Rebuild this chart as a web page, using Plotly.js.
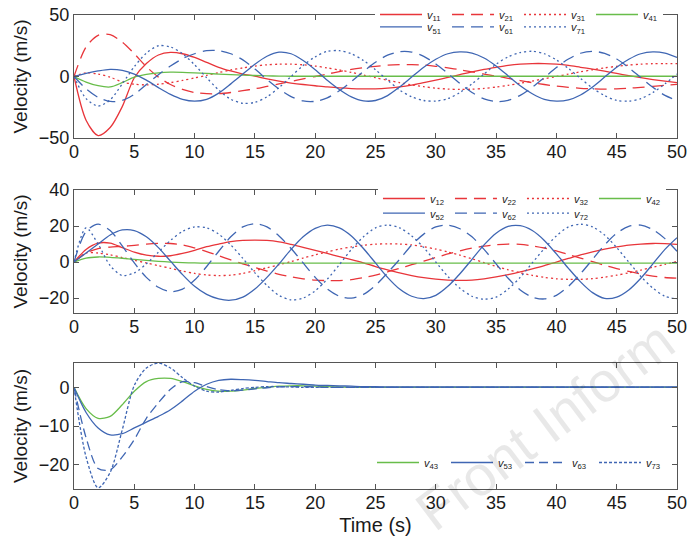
<!DOCTYPE html>
<html><head><meta charset="utf-8">
<script src="https://cdn.plot.ly/plotly-3.0.1.min.js"></script>
<style>html,body{margin:0;padding:0;background:#fff}</style>
</head><body><div id="chart" style="width:689px;height:545px"></div>
<script>
const time = [0,1,2,3,4,5,6,7,8,9,10,11,12,13,14,15,16,17,18,19,20,21,22,23,24,25,26,27,28,29,30,31,32,33,34,35,36,37,38,39,40,41,42,43,44,45,46,47,48,49,50];

// Panel 1
const v11 = [0,-35.5,-48,-41.5,-24.5,-1, 10.5,17.5,19.6,18.5,15.5, 11.5,7.5,4.5,2,0.3, -2,-3.8,-5.3,-6.5,-7.5, -8.5,-9.3,-9.8,-10,-10, -9.5,-8.5,-7,-5,-3, -0.8,1.5,3.8,5.8,7.5, 9,10,10.5,10.5,10, 9,7.5,6,4.3,2.5, 0.7,-1,-2.5,-3.8,-5];
const v21 = [0,24,33.5,34,28,18.5, 8,-0.5,-6.5,-10.5,-13, -14,-14,-13,-11.5,-10, -8,-6,-4,-2,0, 2,4,5.8,7.2,8.3, 9.2,9.6,9.7,9.3,8.3, 7,5.5,3.8,2,0.3, -1.5,-3.3,-5,-6.5,-7.8, -8.8,-9.6,-10,-10.2,-10, -9.5,-8.8,-8,-7.2,-6.4];
const v31 = [0,3,2,-0.5,-4.5,-6.3, -6.8,-6.3,-5,-3.2,-1.2, 1,3.2,5.3,7,8.5, 9.5,10,10,9.5,8.5, 7,5.3,3.3,1.2,-1, -3,-5,-6.8,-8.3,-9.5, -10.2,-10.5,-10.3,-9.7,-8.6, -7.2,-5.5,-3.7,-1.8,0, 2,3.8,5.5,7,8.3, 9.3,10,10.4,10.5,10.4];
const v41 = [0,-4.5,-7.5,-8.5,-5,-0.5, 1.8,3,3.5,3.4,3, 2.5,2,1.5,1.1,0.8, 0.5,0.3,0.2,0.2,0.2, 0.2,0.2,0.2,0.2,0.2, 0.2,0.2,0.2,0.2,0.2, 0.2,0.2,0.2,0.2,0.2, 0.2,0.2,0.2,0.2,0.2, 0.2,0.2,0.2,0.2,0.2, 0.2,0.2,0.2,0.2,0.2];
const v51 = [0,2.5,4.5,5.8,5,2, -3,-9,-14.5,-18.5,-20, -18.5,-13.5,-6,2,10, 16.5,19.8,18.5,13,5.5, -3,-10.5,-16.5,-19.8,-19.5, -15.5,-8.5,-0.5,7.5,14, 18.5,20,19,15,8.5, 0.5,-7.5,-14,-18.5,-20, -19,-15,-8.5,-0.5,7.5, 14,18.5,20,19,15.5];
const v61 = [0,-10,-17,-20.3,-19.5,-14.5, -6.5,1.5,8.5,14.5,18.5, 21,21,18.5,13.5,6, -2.5,-10.2,-16.4,-19.9,-20.2, -17.3,-11.6,-4.1,4.1,11.6, 17.3,20.2,19.9,16.4,10.2, 2.5,-5.7,-13,-18.2,-20.4, -19.4,-15.3,-8.8,-0.8,7.3, 14.2,18.9,20.5,18.8,14.2, 7.2,-0.9,-8.8,-15.4,-19.5];
const v71 = [0,-18,-24,-19,-6,8, 19,25,24,18.5,9.5, -1,-11,-18.5,-21.8,-21, -16.5,-9,0,9,16, 20.5,21,18.5,13,5.5, -3,-11,-16.5,-19.5,-20, -18,-13,-6,2,10, 16,19.5,20.5,18.5,13.5, 6.5,-1.5,-9.5,-15.5,-19.5, -20,-18,-13,-6,2];

// Panel 2
const v12 = [0,7,10.5,10.5,8,5.5, 3.8,3.2,3.5,4.8,6.5, 8.5,10,11.3,12,12.2, 12,11.2,9.8,8.2,6.5, 4.8,3,1.3,-0.5,-2.5, -4.3,-6,-7.5,-8.7,-9.5, -10,-10.2,-10,-9.3,-8.3, -7,-5.5,-3.8,-2,0, 2,4,5.7,7.2,8.4, 9.4,10,10.3,10.2,9.8];
const v22 = [0,5,7.5,8.3,8.7,9.3, 10,10.4,10.3,9.5,7.8, 5.8,3.5,1.2,-1,-3, -5,-6.8,-8.2,-9.3,-10, -10.3,-10.3,-9.8,-8.7,-7.3, -5.5,-3.5,-1.5,0.5,2.5, 4.5,6.2,7.7,8.8,9.6, 10,9.8,9,7.8,6.2, 4.2,2.2,0.2,-1.8,-3.6, -5.2,-6.6,-7.8,-8.6,-9];
const v32 = [0,5,5,4,2.5,1, -0.5,-2,-3.5,-5,-6.3, -7.2,-7.5,-7.3,-6.3,-4.8, -3.2,-1.5,0.3,2.2,4, 5.7,7.2,8.4,9.3,9.9, 10.1,10,9.5,8.5,7.2, 5.6,3.8,1.8,-0.3,-2.4, -4.3,-6,-7.4,-8.5,-9.3, -9.6,-9.6,-9.2,-8.4,-7.3, -6,-4.5,-2.9,-1.3,0.3];
const v42 = [0,2.2,2.8,2.6,2.1,1.5, 0.9,0.4,0,-0.3,-0.5, -0.6,-0.6,-0.6,-0.6,-0.6, -0.6,-0.6,-0.6,-0.6,-0.6, -0.6,-0.6,-0.6,-0.6,-0.6, -0.6,-0.6,-0.6,-0.6,-0.6, -0.6,-0.6,-0.6,-0.6,-0.6, -0.6,-0.6,-0.6,-0.6,-0.6, -0.6,-0.6,-0.6,-0.6,-0.6, -0.6,-0.6,-0.6,-0.6,-0.6];
const v52 = [0,5,10,15,17.8,17.5, 14,8,0.5,-7,-13.5, -18,-20.5,-21.2,-19.5,-15, -8.5,-1,7,14,18.7, 20.5,19,14.5,7.5,-0.5, -8.5,-15,-19,-20.3,-18.5, -13.5,-6.5,1.5,9.5,16, 19.8,20.2,17.5,12,4.5, -3.5,-11,-17,-20.2,-19.5, -15.5,-9,-1,7,13.5];
const v62 = [0,17,21,17.5,9,-0.5, -8.5,-14,-16.5,-15,-10, -2.5,6,14,19.5,21.3, 19.5,14.5,7.5,-0.5,-8.5, -15,-19,-20,-18,-13, -6,1.5,9.5,15.5,19.5, 20.5,18.5,14,7,-1, -9,-15.5,-19.5,-20.5,-18.5, -13.5,-6.5,1.5,9.5,16, 19.8,20.5,18,13,6];
const v72 = [0,19,10,-2,-7.5,-6, -1,5.5,12,17,19.5, 19,15.5,9.5,2,-6, -13,-18.5,-21,-20,-16, -9.5,-1.5,7,14,19, 20.5,19,14.5,8,0, -8,-14.5,-19,-20.6,-19.5, -15,-8.5,-0.5,7.5,14.5, 19.5,21,19.5,15,8, 0,-8,-14.5,-19,-20.5];

// Panel 3
const v43 = [0,-5.5,-8,-7.5,-4.5,-1, 1.5,2.3,2.3,1.5,0.4, -0.5,-1,-1,-0.7,-0.3, 0,0.3,0.4,0.4,0.3, 0.2,0.1,0,0,0, 0,0,0,0,0, 0,0,0,0,0, 0,0,0,0,0, 0,0,0,0,0, 0,0,0,0,0];
const v53 = [0,-6.5,-10.5,-12.3,-12,-10.5, -9,-7.5,-5.8,-3.5,-1, 0.8,1.8,2.1,2,1.8, 1.5,1.2,1,0.8,0.6, 0.5,0.4,0.3,0.2,0.2, 0.1,0.1,0.1,0.1,0.1, 0.1,0.1,0.1,0.1,0.1, 0.1,0.1,0.1,0.1,0.1, 0.1,0.1,0.1,0.1,0.1, 0.1,0.1,0.1,0.1,0.1];
const v63 = [0,-13,-21,-21.3,-18,-13.5, -8,-4,-0.5,1.5,1.2, 0.2,-0.6,-0.9,-0.7,-0.4, -0.1,0.1,0.2,0.2,0.1, 0,0,0,0,0, 0,0,0,0,0, 0,0,0,0,0, 0,0,0,0,0, 0,0,0,0,0, 0,0,0,0,0];
const v73 = [0,-18,-26,-22,-11,0.5, 5,6.3,5,2.5,0.3, -1,-1.2,-0.8,-0.3,0, 0.2,0.2,0.1,0,0, 0,0,0,0,0, 0,0,0,0,0, 0,0,0,0,0, 0,0,0,0,0, 0,0,0,0,0, 0,0,0,0,0];

const xTicks = [0,5,10,15,20,25,30,35,40,45,50];

const RED = '#e8353a', BLUE = '#3f66b3', GREEN = '#68bd4a';
const DASH = '12px,7px', DOT = '2px,3px';
const FONT = 'Liberation Sans, Arial, sans-serif';

function tr(y, name, color, dash, xa, ya, leg) {
  return {x: time, y: y, name: name, type: 'scatter', mode: 'lines',
    line: {color: color, width: 1.3, dash: dash, shape: 'spline', smoothing: 0.8},
    xaxis: xa, yaxis: ya, legend: leg, hoverinfo: 'skip'};
}
const lab = s => '<i>v</i><sub>' + s + '</sub>';

const data = [
  tr(v11, lab('11'), RED, 'solid', 'x', 'y', 'legend'),
  tr(v21, lab('21'), RED, DASH, 'x', 'y', 'legend'),
  tr(v31, lab('31'), RED, DOT, 'x', 'y', 'legend'),
  tr(v41, lab('41'), GREEN, 'solid', 'x', 'y', 'legend'),
  tr(v51, lab('51'), BLUE, 'solid', 'x', 'y', 'legend2'),
  tr(v61, lab('61'), BLUE, DASH, 'x', 'y', 'legend2'),
  tr(v71, lab('71'), BLUE, DOT, 'x', 'y', 'legend2'),
  tr(v12, lab('12'), RED, 'solid', 'x2', 'y2', 'legend3'),
  tr(v22, lab('22'), RED, DASH, 'x2', 'y2', 'legend3'),
  tr(v32, lab('32'), RED, DOT, 'x2', 'y2', 'legend3'),
  tr(v42, lab('42'), GREEN, 'solid', 'x2', 'y2', 'legend3'),
  tr(v52, lab('52'), BLUE, 'solid', 'x2', 'y2', 'legend4'),
  tr(v62, lab('62'), BLUE, DASH, 'x2', 'y2', 'legend4'),
  tr(v72, lab('72'), BLUE, DOT, 'x2', 'y2', 'legend4'),
  tr(v43, lab('43'), GREEN, 'solid', 'x3', 'y3', 'legend5'),
  tr(v53, lab('53'), BLUE, 'solid', 'x3', 'y3', 'legend5'),
  tr(v63, lab('63'), BLUE, '9px,5px', 'x3', 'y3', 'legend5'),
  tr(v73, lab('73'), BLUE, '3px,2px', 'x3', 'y3', 'legend5')
];

const axCommon = {
  showline: true, linecolor: '#555', linewidth: 1, mirror: 'ticks',
  ticks: 'inside', ticklen: 5, tickcolor: '#555', tickwidth: 1,
  showgrid: false, zeroline: false,
  tickfont: {family: FONT, size: 18, color: '#1a1a1a'}
};
function xa(anchor, title) {
  const a = Object.assign({}, axCommon, {anchor: anchor, domain: [0, 1], range: [0, 50],
    tickmode: 'array', tickvals: xTicks, ticktext: xTicks.map(String), ticklabelstandoff: -3});
  if (title) a.title = {text: title, font: {family: FONT, size: 20, color: '#1a1a1a'}, standoff: 6};
  return a;
}
function ya(anchor, domain, range, ticks) {
  return Object.assign({}, axCommon, {anchor: anchor, domain: domain, range: range,
    tickmode: 'array', tickvals: ticks,
    title: {text: 'Velocity (m/s)', font: {family: FONT, size: 19, color: '#1a1a1a'}, standoff: 6}});
}
function leg(x, y, ew, bg) {
  return {orientation: 'h', x: x, y: y, xanchor: 'left', yanchor: 'top',
    xref: 'paper', yref: 'paper', itemwidth: 42, entrywidthmode: 'pixels', entrywidth: ew,
    bgcolor: bg, borderwidth: 0, traceorder: 'normal',
    font: {family: FONT, size: 11, color: '#222'}};
}

const layout = {
  width: 689, height: 545,
  margin: {l: 74, r: 12, t: 15, b: 56, autoexpand: false},
  paper_bgcolor: '#fff', plot_bgcolor: '#fff',
  showlegend: true,
  xaxis: xa('y'), yaxis: ya('x', [0.7405, 1], [-50, 50], [-50, 0, 50]),
  xaxis2: xa('y2'), yaxis2: ya('x2', [0.3713, 0.6308], [-28.3, 40], [-20, 0, 20, 40]),
  xaxis3: xa('y3', 'Time (s)'), yaxis3: ya('x3', [0, 0.2658], [-26.3, 6.3], [-20, -10, 0]),
  legend: leg(0.4992, 1.0316, 15, '#fff'),
  legend2: leg(0.4992, 1.0055, 15, 'rgba(255,255,255,0)'),
  legend3: leg(0.5041, 0.6435, 15, '#fff'),
  legend4: leg(0.5041, 0.6124, 15, 'rgba(255,255,255,0)'),
  legend5: leg(0.4942, 0.0865, 17, '#fff'),
  annotations: [{
    text: 'Front Inform', xref: 'paper', yref: 'paper', x: 0.781, y: 0.135,
    xanchor: 'center', yanchor: 'middle',
    showarrow: false, textangle: -37,
    font: {family: FONT, size: 56, color: 'rgba(0,0,0,0.09)'}
  }]
};

Plotly.newPlot('chart', data, layout, {displayModeBar: false, staticPlot: true});
</script>
</body></html>
